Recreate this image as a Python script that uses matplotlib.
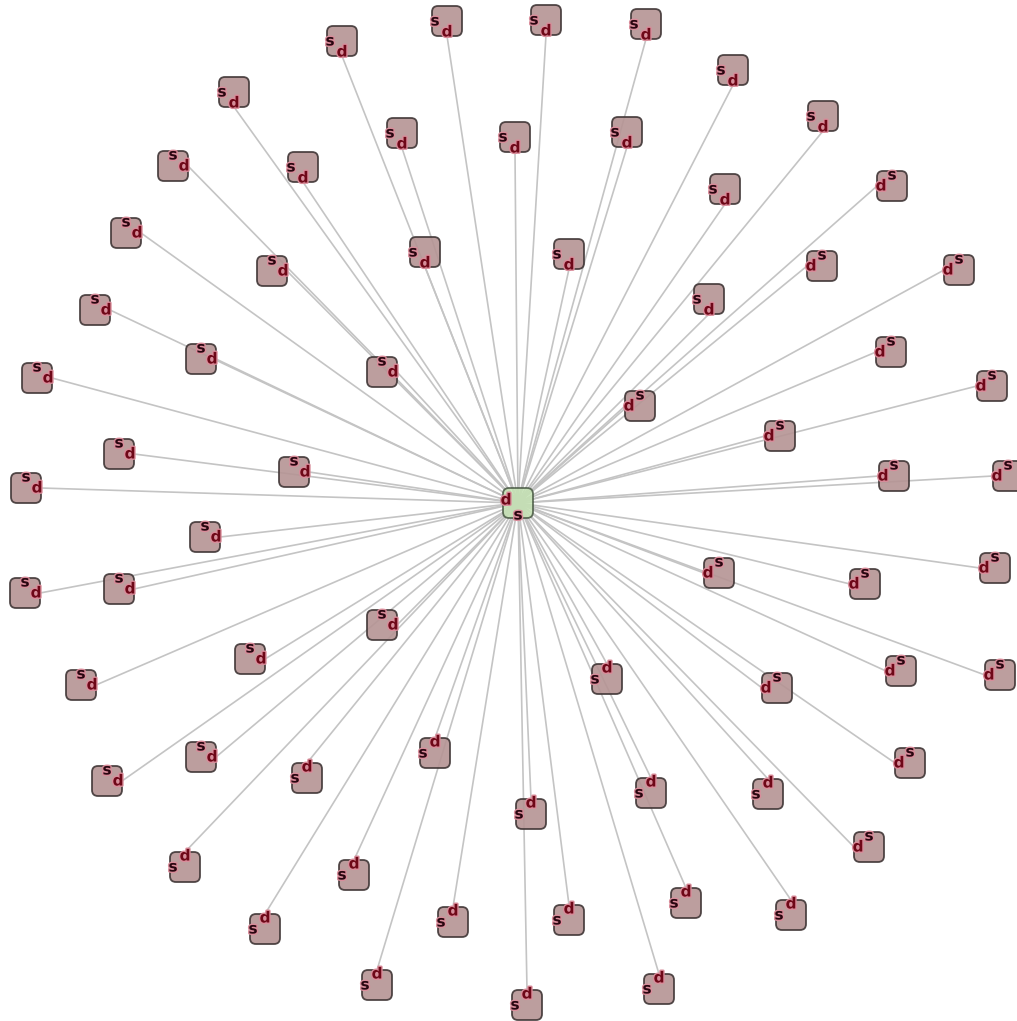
import matplotlib
matplotlib.use('Agg')
import matplotlib.pyplot as plt
from matplotlib.patches import FancyBboxPatch
import matplotlib.patheffects as pe

# hub node position (pixels)
hub_x = 518
hub_y = 503

# outer node positions (pixels, y goes down)
node_x = [447, 342, 234, 402, 515, 173, 303, 126, 425, 272, 95, 201, 382, 37, 119, 294, 26,
          546, 646, 733, 627, 823, 725, 892, 569, 822, 959, 709, 891, 640, 992, 780, 894, 1008,
          205, 25, 119, 382, 250, 81, 201, 435, 107, 307, 185, 354, 265, 453, 377,
          719, 865, 995, 607, 777, 901, 1000, 910, 651, 768, 531, 869, 686, 791, 569, 659, 527]
node_y = [21, 41, 92, 133, 137, 166, 167, 233, 252, 271, 310, 359, 372, 378, 454, 472, 488,
          20, 24, 70, 132, 116, 189, 186, 254, 266, 270, 299, 352, 406, 386, 436, 476, 476,
          537, 593, 589, 625, 659, 685, 757, 753, 781, 778, 867, 875, 929, 922, 985,
          573, 584, 568, 679, 688, 671, 675, 763, 793, 794, 814, 847, 903, 915, 920, 989, 1005]

src_label = 's'
dst_label = 'd'

W = 1017
H = 1021
half = 15

fig = plt.figure(figsize=(W / 100, H / 100), dpi=100)
ax = fig.add_axes([0, 0, 1, 1])
ax.set_xlim(0, W)
ax.set_ylim(H, 0)
ax.axis('off')

halo = [pe.withStroke(linewidth=2.0, foreground='#d98c9a')]

def label(x, y, t, c):
    ax.text(x, y, t, ha='center', va='center', fontsize=11, fontweight='bold',
            color=c, path_effects=halo, zorder=5)

# work out where the 'd' port sits on each node (side facing the hub)
ports = []
for x, y in zip(node_x, node_y):
    dx = hub_x - x
    dy = hub_y - y
    if abs(dx) > abs(dy):
        sgn = 1 if dx > 0 else -1
        px, py = x + sgn * half, y
        dpos = (x + sgn * 11, y)
        spos = (x, y - 11)
    else:
        sgn = 1 if dy > 0 else -1
        px, py = x, y + sgn * half
        dpos = (x, y + sgn * 11)
        spos = (x - 12, y)
    ports.append((px, py, dpos, spos))

# edges
for px, py, dpos, spos in ports:
    ax.plot([px, hub_x], [py, hub_y], color='#c4c4c4', lw=1.2, zorder=1, solid_capstyle='butt')

# nodes
for (x, y), (px, py, dpos, spos) in zip(zip(node_x, node_y), ports):
    box = FancyBboxPatch((x - half, y - half), 2 * half, 2 * half,
                         boxstyle='round,pad=0,rounding_size=6',
                         fc='#b59494', ec='#3f3535', lw=1.3, alpha=0.9, zorder=3)
    ax.add_patch(box)
    label(spos[0], spos[1], src_label, '#2a0610')
    label(dpos[0], dpos[1], dst_label, '#6e0818')

# hub
hub = FancyBboxPatch((hub_x - half, hub_y - half), 2 * half, 2 * half,
                     boxstyle='round,pad=0,rounding_size=6',
                     fc='#c4e4b2', ec='#3f4f3a', lw=1.3, alpha=0.8, zorder=3)
ax.add_patch(hub)
label(hub_x - 12, hub_y - 3, dst_label, '#6e0818')
label(hub_x, hub_y + 12, src_label, '#2a0610')

plt.savefig('out.png', dpi=100)
